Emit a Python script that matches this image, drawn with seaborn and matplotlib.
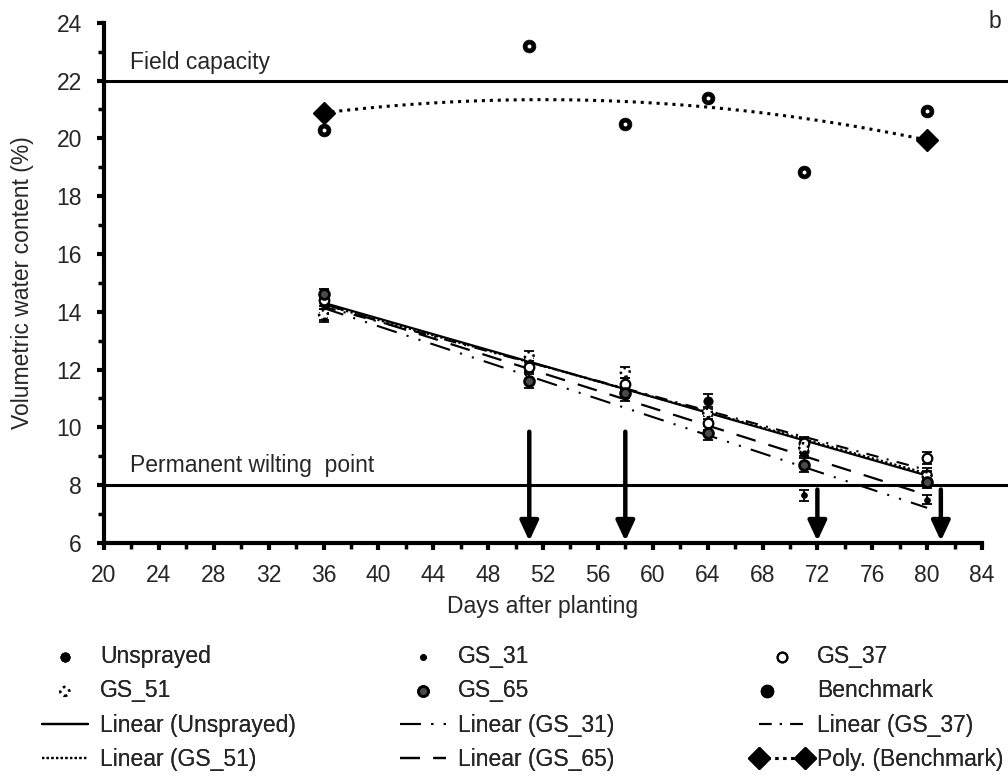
import numpy as np
import pandas as pd
import seaborn as sns
import matplotlib.pyplot as plt
from matplotlib.legend_handler import HandlerTuple
from matplotlib.ticker import MultipleLocator

# ---------------- data ----------------
days = [36, 51, 58, 64, 71, 80]
unsprayed = [14.3, 12.2, 11.3, 10.9, 9.2, 8.4]
gs_31 = [13.8, 12.1, 11.1, 10.0, 7.65, 7.5]
gs_37 = [14.4, 12.1, 11.5, 10.15, 9.45, 8.95]
gs_51 = [13.9, 12.45, 11.9, 10.5, 9.3, 8.3]
gs_65 = [14.6, 11.6, 11.2, 9.8, 8.7, 8.1]
benchmark = [20.3, 23.2, 20.5, 21.4, 18.85, 20.95]

err_unsprayed = [0.2, 0.2, 0.2, 0.25, 0.2, 0.2]
err_gs_31 = [0.15, 0.2, 0.2, 0.2, 0.2, 0.15]
err_gs_37 = [0.2, 0.2, 0.2, 0.25, 0.2, 0.2]
err_gs_51 = [0.2, 0.2, 0.2, 0.2, 0.2, 0.2]
err_gs_65 = [0.2, 0.25, 0.2, 0.25, 0.25, 0.2]

field_capacity = 22
wilting_point = 8
arrow_days = [51, 58, 72, 81]
arrow_tops = [9.85, 9.85, 7.85, 7.85]
arrow_bottom = 6.07

series_names = ["Unsprayed", "GS_31", "GS_37", "GS_51", "GS_65"]
series_vals = [unsprayed, gs_31, gs_37, gs_51, gs_65]
series_errs = [err_unsprayed, err_gs_31, err_gs_37, err_gs_51, err_gs_65]

df = pd.DataFrame({"day": days * 6,
                   "vwc": unsprayed + gs_31 + gs_37 + gs_51 + gs_65 + benchmark,
                   "series": sum([[n] * len(days) for n in series_names + ["Benchmark"]], [])})

# ---------------- style ----------------
sns.set_theme(style="ticks")
plt.rcParams["font.family"] = ["Liberation Sans", "DejaVu Sans"]
FS = 16.5
plt.rcParams["font.size"] = FS

fig = plt.figure(figsize=(10.08, 7.81), dpi=100)
ax = fig.add_axes([104 / 1008, 1 - 543 / 781, (982 - 104) / 1008, (543 - 22.7) / 781])

# error bars
for vals, errs in zip(series_vals, series_errs):
    ax.errorbar(days, vals, yerr=errs, fmt="none", ecolor="black",
                elinewidth=1.3, capsize=3.5, capthick=1.3, zorder=3)

marker_styles = {
    "Unsprayed": dict(marker="o", s=45, color="black", edgecolor="black", linewidth=0.5),
    "GS_31": dict(marker="o", s=18, color="black", edgecolor="black", linewidth=0.5),
    "GS_37": dict(marker="o", s=48, facecolor="white", edgecolor="black", linewidth=1.6),
    "GS_51": dict(marker="o", s=40, facecolor="white", edgecolor="black", linewidth=1.8, linestyle=":"),
    "GS_65": dict(marker="o", s=50, facecolor="#4a4a4a", edgecolor="black", linewidth=2.0),
}
for name in series_names:
    sub = df[df.series == name]
    sns.scatterplot(data=sub, x="day", y="vwc", ax=ax, zorder=4, label=name, **marker_styles[name])

bsub = df[df.series == "Benchmark"]
sns.scatterplot(data=bsub, x="day", y="vwc", ax=ax, marker="o", s=85, color="black",
                edgecolor="black", linewidth=0.5, zorder=4, label="Benchmark")
sns.scatterplot(data=bsub, x="day", y="vwc", ax=ax, marker="o", s=8, color="white",
                edgecolor="white", linewidth=0, zorder=5, label="Benchmark dot")

# trend lines
line_styles = {
    "Unsprayed": dict(ls="-", lw=1.6),
    "GS_31": dict(ls=(0, (10, 5, 1, 5, 1, 5)), lw=1.5),
    "GS_37": dict(ls=(0, (6, 4, 1, 4)), lw=1.5),
    "GS_51": dict(ls=(0, (1, 1.1)), lw=1.6),
    "GS_65": dict(ls=(0, (9, 6)), lw=1.6),
}
for name in series_names:
    sub = df[df.series == name]
    sns.regplot(data=sub, x="day", y="vwc", ax=ax, scatter=False, ci=None, truncate=True,
                color="black", label=f"Linear ({name})",
                line_kws=dict(zorder=3, **line_styles[name]))
sns.regplot(data=bsub, x="day", y="vwc", ax=ax, scatter=False, ci=None, order=2, truncate=True,
            color="black", label="Poly. (Benchmark)",
            line_kws=dict(ls=(0, (1, 1.6)), lw=2.2, marker="D", markersize=11, markevery=[0, -1],
                          zorder=3))

# reference lines (extend past the axis to the figure edge)
for yv in (field_capacity, wilting_point):
    ax.plot([20, 85.9], [yv, yv], color="black", lw=2.2, clip_on=False, zorder=2)
ax.text(21.9, 22.62, "Field capacity", fontsize=FS, ha="left", va="center")
ax.text(21.9, 8.68, "Permanent wilting  point", fontsize=FS, ha="left", va="center")

# arrows
for d, top in zip(arrow_days, arrow_tops):
    ax.annotate("", xy=(d, arrow_bottom), xytext=(d, top),
                arrowprops=dict(arrowstyle="-|>,head_length=0.6,head_width=0.28",
                                mutation_scale=20, lw=3.2, color="black",
                                shrinkA=0, shrinkB=0), zorder=6)

# axes
ax.set_xlim(20, 84)
ax.set_ylim(6, 24)
ax.xaxis.set_major_locator(MultipleLocator(4))
ax.xaxis.set_minor_locator(MultipleLocator(2))
ax.yaxis.set_major_locator(MultipleLocator(2))
ax.yaxis.set_minor_locator(MultipleLocator(1))
ax.tick_params(which="major", direction="out", length=5, width=3, labelsize=FS, pad=10, color="black")
ax.tick_params(which="minor", direction="out", length=4, width=2.5, color="black")
ax.tick_params(axis="y", which="major", pad=11)
for sp in ("top", "right"):
    ax.spines[sp].set_visible(False)
for sp in ("left", "bottom"):
    ax.spines[sp].set_linewidth(3)
    ax.spines[sp].set_color("black")
ax.set_xlabel("Days after planting", fontsize=FS, labelpad=6)
ax.set_ylabel("Volumetric water content (%)", fontsize=FS, labelpad=16)
fig.text(995 / 1008, 1 - 22 / 781, "b", fontsize=FS, ha="center", va="center")

# legend: three fixed columns, four rows
h, l = ax.get_legend_handles_labels()
hd = dict(zip(l, h))
bench_handle = (hd["Benchmark"], hd["Benchmark dot"])
columns = [
    ["Unsprayed", "GS_51", "Linear (Unsprayed)", "Linear (GS_51)"],
    ["GS_31", "GS_65", "Linear (GS_31)", "Linear (GS_65)"],
    ["GS_37", "Benchmark", "Linear (GS_37)", "Poly. (Benchmark)"],
]
col_x = [35 / 1008, 393 / 1008, 752 / 1008]
if ax.get_legend() is not None:
    ax.get_legend().remove()
for cx, labs in zip(col_x, columns):
    hs = [bench_handle if lab == "Benchmark" else hd[lab] for lab in labs]
    leg = fig.legend(hs, labs, loc="upper left", bbox_to_anchor=(cx, 1 - 645 / 781),
                     frameon=False, fontsize=FS, handlelength=2.6, handletextpad=0.25,
                     labelspacing=0.5, borderpad=0, borderaxespad=0, numpoints=2,
                     scatterpoints=1, handler_map={tuple: HandlerTuple(ndivide=None, pad=0)})
    fig.add_artist(leg)

fig.savefig("out.png", dpi=100)
